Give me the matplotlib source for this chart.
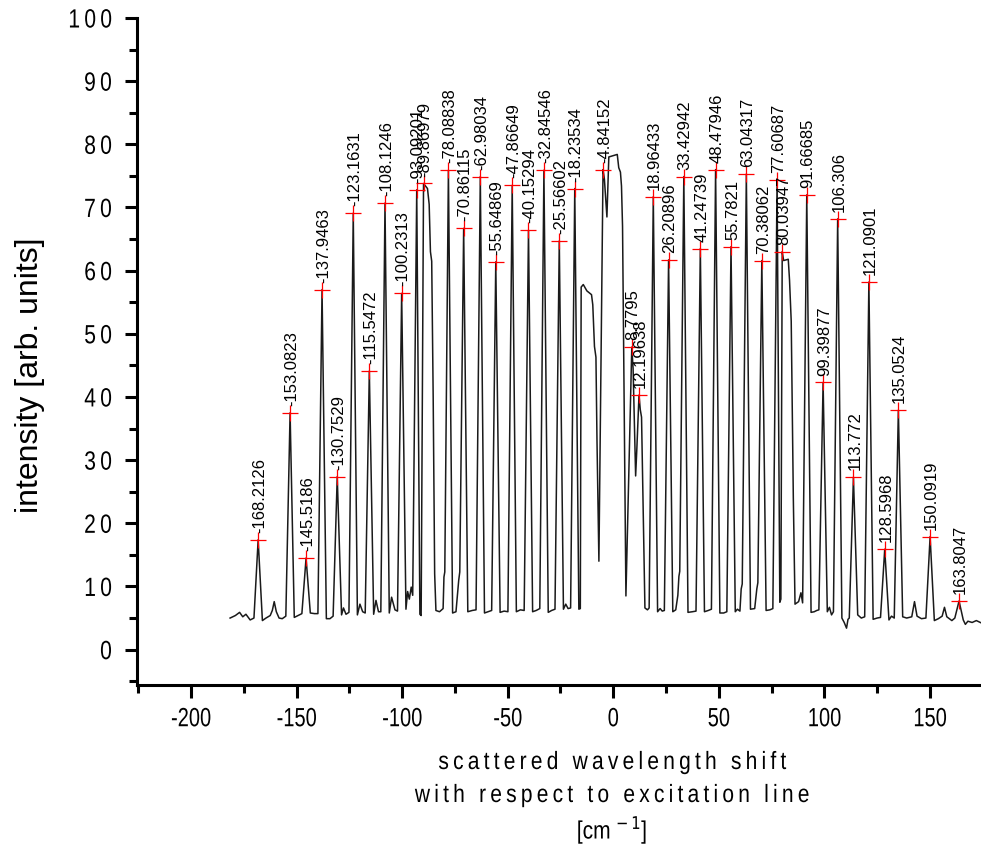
import matplotlib
matplotlib.use("Agg")
import matplotlib.pyplot as plt
from matplotlib.ticker import MultipleLocator, FuncFormatter
from matplotlib.patheffects import AbstractPathEffect
from matplotlib.transforms import Affine2D

# peak positions (as printed on the plot) and intensities at the red markers
peak_labels = ["-168.2126", "-153.0823", "-145.5186", "-137.9463", "-130.7529",
               "-123.1631", "-115.5472", "-108.1246", "-100.2313", "-93.09201",
               "-89.86979", "-78.08838", "-70.86115", "-62.98034", "-55.64869",
               "-47.86649", "-40.15294", "-32.84546", "-25.56602", "-18.23534",
               "-4.84152", "8.7795", "12.19638", "18.96433", "26.20896",
               "33.42942", "41.24739", "48.47946", "55.7821", "63.04317",
               "70.38062", "77.60687", "80.03947", "91.66685", "99.39877",
               "106.306", "113.772", "121.0901", "128.5968", "135.0524",
               "150.0919", "163.8047"]
peak_heights = [17.4, 37.5, 14.5, 57.0, 27.4,
                69.1, 44.1, 70.7, 56.4, 72.8,
                73.8, 75.9, 66.7, 74.9, 61.4,
                73.5, 66.4, 75.9, 64.7, 73.0,
                76.0, 47.9, 40.3, 71.7, 61.7,
                74.9, 63.5, 76.0, 63.8, 75.3,
                61.6, 74.3, 63.0, 72.0, 42.3,
                68.2, 27.3, 58.2, 15.9, 37.9,
                17.9, 7.7]

# rest of the spectrum trace: peak feet, baseline wiggles, central band
shape_pts = [
    (-181.5, 5.0), (-179.0, 5.4), (-177.0, 5.9), (-175.5, 5.2), (-174.0, 5.6),
    (-172.0, 4.7), (-170.2, 5.0),
    (-166.2, 4.6), (-164.5, 5.0), (-162.5, 5.4), (-161.5, 6.2), (-160.6, 7.6),
    (-159.6, 6.0), (-158.3, 5.0), (-156.8, 4.9), (-155.1, 5.3),
    (-151.1, 5.1), (-149.3, 5.4), (-147.5, 5.7),
    (-143.5, 5.8), (-141.5, 5.7), (-139.9, 5.7),
    (-135.9, 4.9), (-134.2, 4.9), (-132.7, 5.3),
    (-128.7, 5.5), (-127.8, 6.6), (-126.6, 5.6), (-125.2, 5.9),
    (-121.2, 5.5), (-120.0, 7.2), (-118.7, 6.0), (-117.5, 5.8),
    (-113.5, 5.6), (-112.4, 7.8), (-111.2, 6.0), (-110.1, 6.0),
    (-106.1, 5.8), (-105.0, 8.3), (-103.4, 6.3), (-102.2, 6.1),
    (-98.2, 6.4), (-97.4, 9.2), (-96.6, 8.0), (-95.7, 9.9), (-95.0, 8.6),
    (-91.6, 5.6), (-91.0, 5.4),
    (-88.0, 73.0), (-87.2, 70.5), (-86.6, 63.0), (-86.0, 61.5), (-85.3, 40.0),
    (-84.6, 12.0), (-84.0, 6.2), (-82.3, 6.0), (-80.6, 6.5), (-80.2, 11.5),
    (-79.8, 12.3),
    (-76.1, 5.8), (-74.5, 6.0), (-73.2, 11.0), (-72.7, 12.3),
    (-68.9, 6.0), (-66.8, 6.2), (-65.0, 6.3),
    (-61.0, 5.8), (-59.3, 6.0), (-57.6, 6.2),
    (-53.6, 5.9), (-51.7, 6.1), (-49.9, 6.0),
    (-45.9, 6.0), (-44.0, 6.3), (-42.2, 6.2),
    (-38.2, 6.0), (-36.5, 6.2), (-34.8, 6.5),
    (-30.8, 5.9), (-29.2, 6.2), (-27.6, 6.4),
    (-23.6, 6.4), (-22.5, 7.2), (-21.4, 6.5), (-20.2, 6.6),
    (-16.3, 6.4), (-15.6, 6.5), (-15.2, 57.4), (-14.2, 57.8), (-12.5, 56.8),
    (-10.3, 56.2), (-9.7, 54.6), (-8.9, 48.0), (-8.2, 46.3), (-7.7, 33.0),
    (-6.8, 14.0),
    (-4.2, 74.5), (-3.0, 68.5), (-2.1, 78.0), (1.9, 78.4), (2.6, 76.3),
    (3.4, 75.6), (3.9, 73.4), (4.4, 67.0), (6.0, 8.5),
    (9.4, 44.5), (10.6, 27.5), (11.2, 32.0),
    (12.8, 38.0), (13.4, 36.8), (15.0, 6.6), (16.2, 6.3), (17.0, 6.6),
    (21.0, 6.0), (22.2, 6.5), (23.2, 6.1), (24.2, 6.2),
    (28.2, 6.0), (29.6, 6.3), (30.6, 8.6), (31.1, 11.6), (31.5, 12.4),
    (35.4, 5.9), (37.5, 6.0), (39.2, 6.1),
    (43.2, 6.0), (45.0, 6.2), (46.5, 6.4),
    (50.5, 5.8), (52.3, 5.8), (53.8, 6.0),
    (57.8, 6.0), (58.8, 6.4), (60.0, 6.1), (60.6, 9.6), (61.1, 10.4),
    (65.0, 6.4), (67.0, 6.5), (68.0, 9.6), (68.5, 10.6),
    (72.4, 6.2), (74.2, 6.3), (75.6, 6.5),
    (78.9, 7.5), (79.4, 8.0),
    (80.7, 61.6), (82.9, 61.8), (83.5, 58.5), (84.3, 52.0), (85.3, 24.0),
    (86.1, 7.2), (87.8, 7.6), (88.9, 9.0), (89.7, 7.4),
    (93.7, 5.9), (95.2, 6.0), (96.4, 6.2), (97.4, 6.3),
    (101.4, 6.0), (102.4, 6.7), (103.4, 5.5), (104.3, 6.0),
    (108.3, 5.0), (109.4, 4.3), (110.5, 3.4), (111.2, 4.8), (111.8, 5.0),
    (115.8, 5.5), (117.5, 5.0), (119.1, 5.2),
    (123.1, 4.8), (125.0, 5.0), (126.6, 5.1),
    (130.6, 4.7), (131.8, 5.3), (133.1, 5.0),
    (137.1, 5.2), (139.0, 5.0), (141.4, 5.2), (142.7, 7.6), (143.9, 5.3),
    (146.0, 4.9), (148.1, 5.0),
    (152.1, 4.6), (154.0, 4.9), (155.8, 5.3), (156.9, 6.7), (158.0, 5.2),
    (160.4, 4.6), (161.8, 5.0),
    (165.8, 4.7), (166.8, 4.0), (168.0, 4.5), (170.0, 4.3), (172.0, 4.6),
    (174.5, 4.2), (177.0, 4.3),
]

xlabel_lines = ["scattered wavelength shift", "with respect to excitation line"]
ylabel = "intensity [arb. units]"


class Squeeze(AbstractPathEffect):
    # narrow the glyphs (condensed-font look), keeping the centre or right edge
    def __init__(self, sx, anchor='center'):
        super().__init__()
        self.sx = sx
        self.anchor = anchor

    def draw_path(self, renderer, gc, tpath, affine, rgbFace=None):
        ext = tpath.get_extents()
        ref = ext.x1 if self.anchor == 'right' else (ext.x0 + ext.x1) / 2
        squeeze = Affine2D().translate(-ref, 0).scale(self.sx, 1).translate(ref, 0)
        renderer.draw_path(gc, tpath, squeeze + affine, rgbFace)


plt.rcParams['font.family'] = ['Liberation Sans', 'DejaVu Sans']
plt.rcParams['axes.unicode_minus'] = False

peak_x = [float(s) for s in peak_labels]
pts = sorted(shape_pts + list(zip(peak_x, peak_heights)))
trace_x = [p[0] for p in pts]
trace_y = [p[1] for p in pts]

fig = plt.figure(figsize=(9.81, 8.47), dpi=100)
ax = fig.add_axes([137 / 981, 1 - 685 / 847, 1 - 137 / 981, 667 / 847])

ax.plot(trace_x, trace_y, color='0.1', lw=1.1)
ax.plot(peak_x, peak_heights, linestyle='none', marker='+', color='red', ms=11, mew=0.9)
for lab, x, y in zip(peak_labels, peak_x, peak_heights):
    ax.annotate(lab, (x, y), xytext=(1, 5), textcoords='offset points',
                rotation=90, ha='center', va='bottom', fontsize=12)

ax.set_xlim(-225.6, 174.2)
ax.set_ylim(-5.6, 100)
ax.xaxis.set_major_locator(MultipleLocator(50))
ax.xaxis.set_minor_locator(MultipleLocator(25))
ax.yaxis.set_major_locator(MultipleLocator(10))
ax.yaxis.set_minor_locator(MultipleLocator(5))
ax.yaxis.set_major_formatter(FuncFormatter(lambda v, p: '\u2009'.join(str(int(round(v))))))

for side in ['top', 'right']:
    ax.spines[side].set_visible(False)
for side in ['left', 'bottom']:
    ax.spines[side].set_linewidth(2.2)
ax.tick_params(which='both', direction='out', width=2.2)
ax.tick_params(which='major', length=9)
ax.tick_params(which='minor', length=5.5)
ax.tick_params(axis='y', which='major', labelsize=19, pad=9)
ax.tick_params(axis='x', which='major', labelsize=19, pad=7)

xc = 612 / 981
for text, ypx in zip(xlabel_lines, [762, 795]):
    fig.text(xc, 1 - ypx / 847, '\u2009'.join(text), ha='center', va='center',
             fontsize=18, path_effects=[Squeeze(0.84)])
fig.text(xc, 1 - 830 / 847, '[cm$^{\\,-1}$]', ha='center', va='center',
         fontsize=18, path_effects=[Squeeze(0.84)])
fig.text(30 / 981, 1 - 375 / 847, ylabel, rotation=90, ha='center', va='center', fontsize=23)

fig.canvas.draw()
for t in ax.get_xticklabels():
    t.set_path_effects([Squeeze(0.76)])
for t in ax.get_yticklabels():
    t.set_path_effects([Squeeze(0.8, anchor='right')])

fig.savefig('out.png', dpi=100)
